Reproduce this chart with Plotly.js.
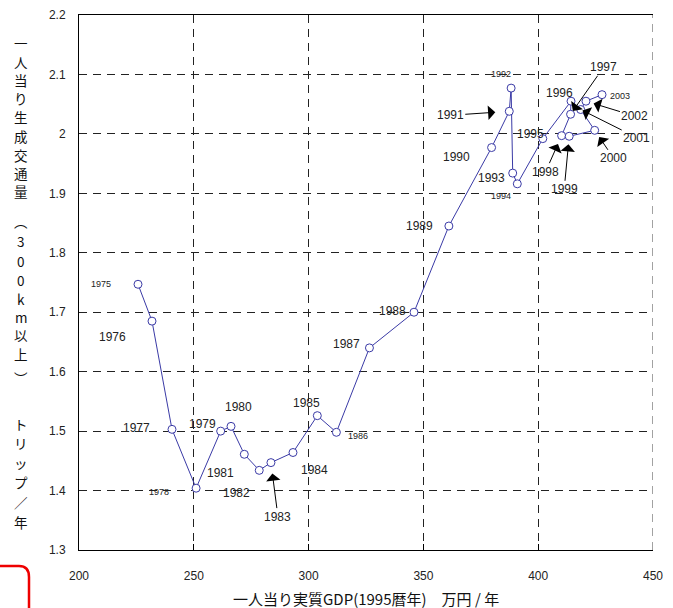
<!DOCTYPE html>
<html>
<head>
<meta charset="utf-8">
<script src="https://cdn.plot.ly/plotly-3.0.1.min.js"></script>
<style>html,body{margin:0;padding:0;background:#fff;}#chart{width:673px;height:608px;}</style>
</head>
<body>
<div id="chart"></div>
<script>
// ---- data ----
const years = [1975,1976,1977,1978,1979,1980,1981,1982,1983,1984,1985,1986,1987,1988,1989,1990,1991,1992,1993,1994,1995,1996,1997,1998,1999,2000,2001,2002,2003];
const gdpPerCapita = [225.7,231.8,240.5,251.0,261.7,266.2,272.0,278.5,283.6,293.2,303.8,312.1,326.5,345.9,361.1,379.7,387.4,388.2,388.9,390.9,402.0,414.3,414.1,410.2,413.5,424.6,418.5,420.8,427.8];
const tripsPerCapita = [1.747,1.685,1.503,1.404,1.500,1.508,1.461,1.434,1.447,1.464,1.526,1.498,1.640,1.700,1.845,1.977,2.038,2.077,1.934,1.916,1.992,2.055,2.033,1.997,1.996,2.006,2.041,2.055,2.066];
const xTickVals = [200,250,300,350,400,450];
const xTitle = '一人当り実質GDP(1995暦年)　万円 / 年';
const yTitleChars = ['一','人','当','り','生','成','交','通','量','︵','3','0','0','k','m','以','上','︶','ト','リ','ッ','プ','／','年'];

// ---- label placement (screen px offsets from each point) ----
const smallLabels = [1975,1978,1986,1992,1994,2003];
const labelOffsets = {
  1975:[-37,0],1976:[-40,16],1977:[-35,-1],1978:[-37,4],1979:[-18,-7],1980:[7,-19],
  1981:[-24,19],1982:[-23,23],1984:[22,17],1985:[-11,-13],1986:[22,4],1987:[-23,-4],
  1988:[-21,-1],1989:[-29,0],1990:[-35,9],1992:[-10,-14],1993:[-21,5],1994:[-16,12],
  1995:[-12,-5],1996:[-12,-8],2003:[18,1]
};
const arrowLabels = {
  1983:{ax:7,ay:54,s:11},1991:{ax:-59,ay:4,s:14},1997:{ax:33,ay:-47,s:4},
  1998:{ax:-16,ay:36,s:9},1999:{ax:-5,ay:53,s:8},2000:{ax:19,ay:28,s:8},
  2001:{ax:56,ay:28,s:2},2002:{ax:49,ay:15,s:8}
};
const yTitleY = [43,62,80,98,117,136,155,173,191,221,241,261,280,299,317,335,354,378,424,443,463,482,502,522];

const M = {l:79, r:20, t:15, b:58};
const plotH = 608 - M.t - M.b;
const LAT = 'Liberation Sans, Arial, sans-serif';
const CJK = 'Noto Sans CJK JP, sans-serif';

const annotations = [];
years.forEach((yr, i) => {
  const small = smallLabels.includes(yr);
  const font = {family: LAT, size: small ? 9 : 12, color: '#222'};
  if (arrowLabels[yr]) {
    const a = arrowLabels[yr];
    annotations.push({x: gdpPerCapita[i], y: tripsPerCapita[i], xref:'x', yref:'y', text: String(yr), font,
      showarrow: true, ax: a.ax, ay: a.ay, standoff: a.s, arrowhead: 1, arrowsize: 2.4, arrowwidth: 1, arrowcolor: '#000'});
  } else if (labelOffsets[yr]) {
    const o = labelOffsets[yr];
    annotations.push({x: gdpPerCapita[i], y: tripsPerCapita[i], xref:'x', yref:'y', text: String(yr), font,
      showarrow: false, xshift: o[0], yshift: -o[1], xanchor:'center', yanchor:'middle'});
  }
});
yTitleChars.forEach((ch, i) => {
  annotations.push({xref:'paper', yref:'paper', x: 0, y: (608 - M.b - yTitleY[i]) / plotH, xshift: 21 - M.l,
    text: ch, showarrow: false, xanchor:'center', yanchor:'middle', font:{family: CJK, size: 13.5, color:'#111'}});
});
annotations.push({xref:'paper', yref:'paper', x: 0.5, y: 0, yshift: -(598 - (608 - M.b)), text: xTitle,
  showarrow:false, xanchor:'center', yanchor:'middle', font:{family: CJK, size: 15, color:'#111'}});

const px = v => (v - M.l) / (673 - M.l - M.r);
const py = v => (608 - M.b - v) / plotH;

const trace = {
  x: gdpPerCapita, y: tripsPerCapita, text: years.map(String), type:'scatter', mode:'lines+markers',
  line: {color:'#3a3aa6', width:1},
  marker: {symbol:'circle', size:8, color:'#fff', line:{color:'#3a3aa6', width:1}},
  hoverinfo:'text+x+y', cliponaxis:false
};

const layout = {
  width: 673, height: 608, margin: M, paper_bgcolor:'#fff', plot_bgcolor:'#fff', showlegend:false,
  xaxis: {range:[200,450], tickvals: xTickVals, ticks:'inside', ticklen:6, tickcolor:'#000',
    showline:true, mirror:true, linecolor:'#000', linewidth:1,
    showgrid:true, gridcolor:'#222', gridwidth:1, griddash:'8px,6px', zeroline:false,
    tickfont:{family: LAT, size:12, color:'#222'}, ticklabelstandoff: 15, fixedrange:true},
  yaxis: {range:[1.3,2.2], tick0:1.3, dtick:0.1, ticks:'', showline:true, mirror:false, linecolor:'#000', linewidth:1,
    showgrid:true, gridcolor:'#222', gridwidth:1, griddash:'8px,6px', zeroline:false,
    tickfont:{family: LAT, size:12, color:'#222'}, ticklabelstandoff: 10, fixedrange:true},
  annotations,
  shapes: [
    {type:'line', xref:'x', yref:'y', x0:450, x1:450, y0:1.3, y1:2.2, line:{color:'#444', width:1, dash:'8px,6px'}},
    {type:'path', xref:'paper', yref:'paper',
     path: `M ${px(0)},${py(566)} L ${px(19)},${py(566)} Q ${px(29)},${py(566)} ${px(29)},${py(577)} L ${px(29)},${py(612)}`,
     line:{color:'#e00', width:2.5}}
  ]
};

Plotly.newPlot('chart', [trace], layout, {staticPlot:true, displayModeBar:false});
</script>
</body>
</html>
